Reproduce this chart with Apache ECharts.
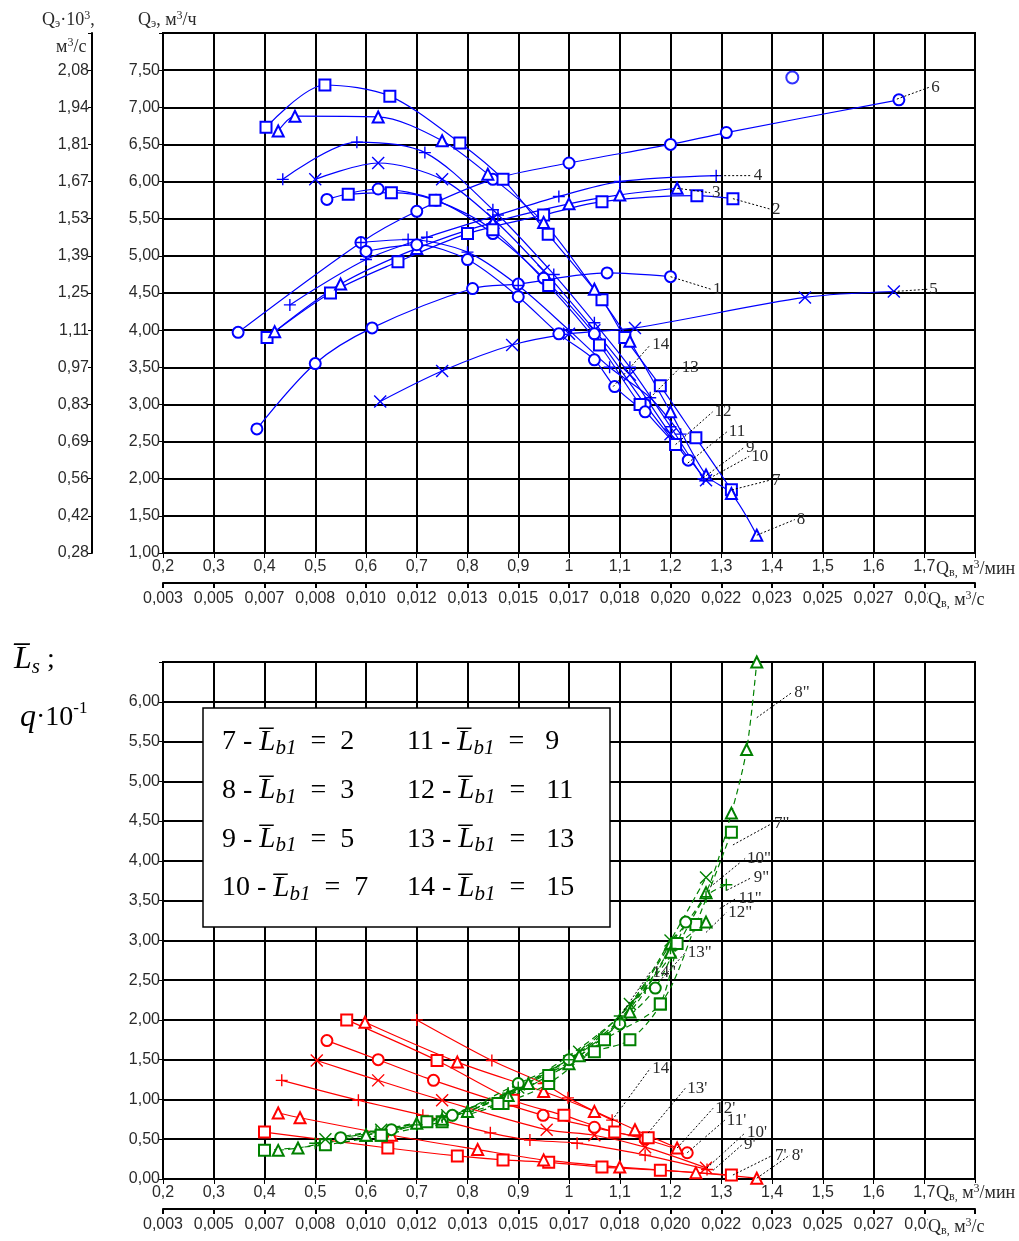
<!DOCTYPE html>
<html>
<head>
<meta charset="utf-8">
<script src="https://cdn.jsdelivr.net/npm/echarts@6/dist/echarts.min.js"></script>
<style>html,body{margin:0;padding:0;background:#fff}#main{width:1019px;height:1241px}</style>
</head>
<body>
<div id="main"></div>
<script>
// ---- axis tick labels ----
var xLabels = ['0,2','0,3','0,4','0,5','0,6','0,7','0,8','0,9','1','1,1','1,2','1,3','1,4','1,5','1,6','1,7',''];
var xSecLabels = ['0,003','0,005','0,007','0,008','0,010','0,012','0,013','0,015','0,017','0,018','0,020','0,022','0,023','0,025','0,027','0,028',''];
var ySecLabels = ['0,28','0,42','0,56','0,69','0,83','0,97','1,11','1,25','1,39','1,53','1,67','1,81','1,94','2,08',''];

// ---- upper chart: Q_э vs Q_в, curves 1..6 (rising) ----
var c1 = [[0.385,2.67],[0.5,3.55],[0.612,4.03],[0.81,4.56],[0.9,4.62],[1.075,4.77],[1.2,4.72]];
var c2 = [[0.405,3.9],[0.53,4.5],[0.663,4.92],[0.8,5.3],[0.95,5.55],[1.065,5.73],[1.252,5.81],[1.323,5.77]];
var c3 = [[0.42,3.98],[0.55,4.62],[0.7,5.1],[0.85,5.45],[1.0,5.7],[1.1,5.82],[1.213,5.91]];
var c4 = [[0.45,4.34],[0.6,4.95],[0.72,5.25],[0.86,5.55],[0.98,5.8],[1.1,6.0],[1.29,6.08]];
var c5 = [[0.628,3.04],[0.75,3.45],[0.888,3.8],[1.0,3.95],[1.13,4.03],[1.465,4.44],[1.64,4.52]];
var c6 = [[0.348,3.97],[0.59,5.18],[0.7,5.6],[0.85,6.03],[1.0,6.25],[1.2,6.5],[1.31,6.66],[1.65,7.1]];
var c6Extra = [[1.44,7.4]];
// curves 7..14 (falling)
var c7 = [[0.403,6.73],[0.519,7.3],[0.647,7.15],[0.785,6.52],[0.87,6.03],[0.959,5.29],[1.065,4.41],[1.11,3.9],[1.18,3.25],[1.25,2.55],[1.32,1.85]];
var c8 = [[0.427,6.68],[0.46,6.88],[0.624,6.87],[0.75,6.55],[0.84,6.1],[0.95,5.45],[1.05,4.55],[1.12,3.85],[1.2,2.9],[1.27,2.05],[1.32,1.8],[1.37,1.24]];
var c9 = [[0.436,6.03],[0.582,6.53],[0.716,6.39],[0.85,5.62],[0.97,4.75],[1.05,4.1],[1.12,3.5],[1.2,2.7],[1.265,2.0]];
var c10 = [[0.5,6.03],[0.624,6.25],[0.75,6.03],[0.85,5.5],[0.95,4.8],[1.05,4.0],[1.12,3.4],[1.2,2.6],[1.27,1.98]];
var c11 = [[0.523,5.76],[0.624,5.9],[0.738,5.75],[0.85,5.3],[0.95,4.7],[1.05,3.95],[1.15,3.0],[1.235,2.25]];
var c12 = [[0.565,5.83],[0.65,5.85],[0.736,5.75],[0.85,5.35],[0.96,4.6],[1.06,3.8],[1.14,3.0],[1.21,2.46]];
var c13 = [[0.59,5.18],[0.683,5.22],[0.8,5.05],[0.9,4.6],[1.0,4.0],[1.08,3.5],[1.16,3.09],[1.22,2.6]];
var c14 = [[0.6,5.06],[0.7,5.15],[0.8,4.95],[0.9,4.45],[0.98,3.95],[1.05,3.6],[1.09,3.24],[1.15,2.9]];

// ---- lower chart: L_s (red, ') and q (green, '') ----
var r7 = [[0.4,0.59],[0.643,0.39],[0.78,0.29],[0.87,0.24],[0.96,0.21],[1.065,0.15],[1.18,0.11],[1.32,0.05]];
var r8 = [[0.427,0.83],[0.47,0.77],[0.65,0.55],[0.82,0.37],[0.95,0.24],[1.1,0.15],[1.25,0.08],[1.37,0.01]];
var r9 = [[0.434,1.24],[0.585,0.99],[0.712,0.8],[0.845,0.58],[0.923,0.49],[1.016,0.45],[1.15,0.3],[1.272,0.12]];
var r10 = [[0.503,1.49],[0.624,1.24],[0.75,0.99],[0.956,0.62],[1.05,0.55],[1.15,0.4],[1.27,0.14]];
var r11 = [[0.523,1.74],[0.624,1.5],[0.733,1.24],[0.949,0.8],[1.05,0.65],[1.15,0.5],[1.233,0.33]];
var r12 = [[0.598,1.97],[0.78,1.47],[0.95,1.1],[1.05,0.85],[1.13,0.62],[1.213,0.39]];
var r13 = [[0.562,2.0],[0.74,1.49],[0.89,0.99],[0.99,0.8],[1.09,0.59],[1.156,0.52]];
var r14 = [[0.7,2.0],[0.848,1.49],[0.95,1.2],[0.998,1.02],[1.085,0.74]];

var g7 = [[0.4,0.36],[0.52,0.43],[0.63,0.55],[0.75,0.72],[0.87,0.95],[0.96,1.2],[1.07,1.75],[1.18,2.2],[1.25,3.2],[1.32,4.36]];
var g8 = [[0.427,0.36],[0.466,0.39],[0.6,0.55],[0.75,0.75],[0.88,1.05],[1.0,1.45],[1.1,2.0],[1.2,2.95],[1.27,3.6],[1.32,4.6],[1.35,5.4],[1.37,6.5]];
var g9 = [[0.5,0.45],[0.62,0.6],[0.75,0.78],[0.88,1.08],[1.0,1.55],[1.1,2.05],[1.2,2.8],[1.27,3.55],[1.31,3.7]];
var g10 = [[0.52,0.5],[0.63,0.62],[0.76,0.8],[0.9,1.15],[1.02,1.6],[1.12,2.2],[1.2,3.0],[1.27,3.79]];
var g11 = [[0.55,0.52],[0.65,0.62],[0.77,0.8],[0.9,1.2],[1.0,1.5],[1.1,1.95],[1.17,2.4],[1.23,3.23]];
var g12 = [[0.6,0.55],[0.7,0.7],[0.8,0.85],[0.92,1.2],[1.02,1.55],[1.12,2.1],[1.2,2.85],[1.27,3.23]];
var g13 = [[0.63,0.55],[0.72,0.72],[0.86,0.95],[0.96,1.3],[1.05,1.6],[1.12,1.75],[1.18,2.2],[1.213,2.96]];
var g14 = [[0.7,0.68],[0.8,0.85],[0.9,1.15],[1.0,1.5],[1.1,2.0],[1.15,2.4],[1.2,2.9]];

// leader lines: [label, from, to]
var topLeaders = [
  ['6',[1.646,7.11],[1.71,7.27]], ['4',[1.29,6.08],[1.36,6.08]], ['3',[1.213,5.91],[1.278,5.85]],
  ['2',[1.323,5.77],[1.396,5.63]], ['1',[1.2,4.72],[1.28,4.55]], ['5',[1.64,4.52],[1.706,4.55]],
  ['14',[1.087,3.24],[1.16,3.8]], ['13',[1.16,3.09],[1.218,3.49]], ['12',[1.21,2.46],[1.283,2.9]],
  ['11',[1.234,2.21],[1.311,2.63]], ['9',[1.264,2.01],[1.345,2.42]], ['10',[1.27,1.98],[1.355,2.3]],
  ['7',[1.321,1.85],[1.396,1.98]], ['8',[1.37,1.24],[1.445,1.45]]
];
var botLeaders = [
  ['8"',[1.37,5.8],[1.44,6.12]], ['7"',[1.323,4.2],[1.4,4.47]], ['10"',[1.278,3.67],[1.347,4.03]],
  ['9"',[1.311,3.63],[1.36,3.79]], ['11"',[1.297,3.4],[1.33,3.53]], ['12"',[1.27,3.1],[1.31,3.35]],
  ['13"',[1.183,2.52],[1.23,2.85]], ['14"',[1.095,2.0],[1.16,2.6]],
  ["14'",[1.085,0.74],[1.16,1.39]], ["13'",[1.156,0.58],[1.229,1.14]], ["12'",[1.213,0.39],[1.284,0.89]],
  ["11'",[1.233,0.33],[1.307,0.74]], ["10'",[1.272,0.14],[1.347,0.58]], ["9'",[1.284,0.11],[1.341,0.43]],
  ["7'",[1.323,0.05],[1.402,0.3]], ["8'",[1.37,0.01],[1.435,0.3]]
];

var legendRows = [['7','2','11','9'],['8','3','12','11'],['9','5','13','13'],['10','7','14','15']];

var BLUE = '#0000ff', RED = '#ff0000', GREEN = '#008000';
var SYM = {
  o: 'emptyCircle', s: 'emptyRect', t: 'emptyTriangle',
  p: 'path://M0,5L10,5M5,0L5,10', x: 'path://M0,0L10,10M10,0L0,10'
};
var tickFont = {fontFamily: 'Liberation Sans', fontSize: 16, color: '#2a2a2a'};

function curve(data, sym, color, grid, dashed) {
  var isPath = sym === 'p' || sym === 'x';
  return {
    type: 'line', xAxisIndex: grid * 2, yAxisIndex: grid * 2, data: data,
    smooth: 0.3, symbol: SYM[sym], symbolSize: isPath ? 12 : 11,
    lineStyle: {color: color, width: 1.2, type: dashed ? [6, 4] : 'solid'},
    itemStyle: isPath ? {color: 'rgba(0,0,0,0)', borderColor: color, borderWidth: 1.4}
                      : {color: color, borderColor: color, borderWidth: 1.3},
    z: 3
  };
}
function leader(item, grid) {
  return {
    type: 'line', xAxisIndex: grid * 2, yAxisIndex: grid * 2,
    data: [item[1], item[2]], symbol: 'none', silent: true,
    lineStyle: {color: '#000', width: 1, type: [2, 2]},
    endLabel: {show: true, formatter: item[0], distance: 2, color: '#2a2a2a',
      fontFamily: 'Liberation Serif', fontSize: 17},
    z: 4
  };
}
function xMain(grid) {
  return {type: 'value', gridIndex: grid, min: 0.2, max: 1.8, interval: 0.1,
    axisLine: {show: true, onZero: false, lineStyle: {color: '#000', width: 2}},
    axisTick: {show: true, length: 5, lineStyle: {color: '#000'}},
    axisLabel: Object.assign({margin: 6, formatter: function (v) { return xLabels[Math.round((v - 0.2) / 0.1)]; }}, tickFont),
    splitLine: {show: true, lineStyle: {color: '#000', width: 2}}};
}
function xSec(grid) {
  return {type: 'value', gridIndex: grid, position: 'bottom', offset: 30, min: 0.2, max: 1.8, interval: 0.1,
    axisLine: {show: true, onZero: false, lineStyle: {color: '#000', width: 2}},
    axisTick: {show: true, length: 5, lineStyle: {color: '#000', width: 2}},
    axisLabel: Object.assign({margin: 8, formatter: function (v) { return xSecLabels[Math.round((v - 0.2) / 0.1)]; }}, tickFont),
    splitLine: {show: false}};
}
function yMain(grid, max) {
  return {type: 'value', gridIndex: grid, min: grid === 0 ? 1 : 0, max: max, interval: 0.5,
    axisLine: {show: true, onZero: false, lineStyle: {color: '#000', width: 2}},
    axisTick: {show: true, length: 4, lineStyle: {color: '#000'}},
    axisLabel: Object.assign({margin: 3, formatter: function (v) {
      return Math.abs(v - max) < 1e-6 ? '' : v.toFixed(2).replace('.', ',');
    }}, tickFont),
    splitLine: {show: true, lineStyle: {color: '#000', width: 2}}};
}

var rich = {
  n: {fontFamily: 'Liberation Serif', fontSize: 28, fill: '#000', lineHeight: 34, verticalAlign: 'middle'},
  l: {fontFamily: 'Liberation Serif', fontStyle: 'italic', fontSize: 29, fill: '#000', lineHeight: 34, verticalAlign: 'middle'},
  s: {fontFamily: 'Liberation Serif', fontStyle: 'italic', fontSize: 21, fill: '#000', lineHeight: 14, verticalAlign: 'bottom'},
  q: {fontFamily: 'Liberation Serif', fontSize: 18, fill: '#2a2a2a', lineHeight: 20, verticalAlign: 'middle'},
  qs: {fontFamily: 'Liberation Serif', fontSize: 12, fill: '#2a2a2a', lineHeight: 10, verticalAlign: 'bottom'},
  qu: {fontFamily: 'Liberation Serif', fontSize: 12, fill: '#2a2a2a', lineHeight: 12, verticalAlign: 'top'},
  Y: {fontFamily: 'Liberation Serif', fontStyle: 'italic', fontSize: 32, fill: '#000', lineHeight: 36, verticalAlign: 'middle'},
  Yn: {fontFamily: 'Liberation Serif', fontSize: 28, fill: '#000', lineHeight: 36, verticalAlign: 'middle'},
  Ys: {fontFamily: 'Liberation Serif', fontStyle: 'italic', fontSize: 21, fill: '#000', lineHeight: 12, verticalAlign: 'bottom'},
  Yu: {fontFamily: 'Liberation Serif', fontSize: 17, fill: '#000', lineHeight: 14, verticalAlign: 'top'}
};

var graphics = [];
function txt(x, y, text, bg) {
  graphics.push({type: 'text', x: x, y: y, z: 50,
    style: {text: text, rich: rich, verticalAlign: 'middle', backgroundColor: bg || null}});
}
// axis titles, upper chart
txt(42, 20, '{q|Q}{qs|э}{q|·10}{qu|3}{q|,}');
txt(56, 47, '{q|м}{qu|3}{q|/с}');
txt(138, 20, '{q|Q}{qs|э}{q|, м}{qu|3}{q|/ч}');
txt(936, 569, '{q|Q}{qs|в,}{q| м}{qu|3}{q|/мин}', '#fff');
txt(928, 600, '{q|Q}{qs|в,}{q| м}{qu|3}{q|/с}', '#fff');
// axis titles, lower chart
txt(936, 1193, '{q|Q}{qs|в,}{q| м}{qu|3}{q|/мин}', '#fff');
txt(928, 1227, '{q|Q}{qs|в,}{q| м}{qu|3}{q|/с}', '#fff');
txt(14, 660, '{Y|L\u0305}{Ys|s}{Yn| ;}');
txt(20, 718, '{Y|q}{Yn|·10}{Yu|-1}');
// legend box
graphics.push({type: 'rect', shape: {x: 203, y: 708, width: 407, height: 219}, z: 40,
  style: {fill: '#fff', stroke: '#000', lineWidth: 1.5}});
legendRows.forEach(function (row, i) {
  var y = 742 + i * 48.7;
  txt(222, y, '{n|' + row[0] + ' - }{l|L\u0305}{s|b1}{n|  =  ' + row[1] + '}');
  txt(407, y, '{n|' + row[2] + ' - }{l|L\u0305}{s|b1}{n|  =   ' + row[3] + '}');
});

var series = [
  curve(c1, 'o', BLUE, 0), curve(c2, 's', BLUE, 0), curve(c3, 't', BLUE, 0),
  curve(c4, 'p', BLUE, 0), curve(c5, 'x', BLUE, 0), curve(c6, 'o', BLUE, 0),
  curve(c7, 's', BLUE, 0), curve(c8, 't', BLUE, 0), curve(c9, 'p', BLUE, 0),
  curve(c10, 'x', BLUE, 0), curve(c11, 'o', BLUE, 0), curve(c12, 's', BLUE, 0),
  curve(c13, 'p', BLUE, 0), curve(c14, 'o', BLUE, 0),
  {type: 'scatter', xAxisIndex: 0, yAxisIndex: 0, data: c6Extra, symbol: 'emptyCircle', symbolSize: 12,
    itemStyle: {color: BLUE, borderColor: BLUE, borderWidth: 1.3}},
  curve(r7, 's', RED, 1), curve(r8, 't', RED, 1), curve(r9, 'p', RED, 1), curve(r10, 'x', RED, 1),
  curve(r11, 'o', RED, 1), curve(r12, 't', RED, 1), curve(r13, 's', RED, 1), curve(r14, 'p', RED, 1),
  curve(g7, 's', GREEN, 1, true), curve(g8, 't', GREEN, 1, true), curve(g9, 'p', GREEN, 1, true),
  curve(g10, 'x', GREEN, 1, true), curve(g11, 'o', GREEN, 1, true), curve(g12, 't', GREEN, 1, true),
  curve(g13, 's', GREEN, 1, true), curve(g14, 'p', GREEN, 1, true)
];
topLeaders.forEach(function (l) { series.push(leader(l, 0)); });
botLeaders.forEach(function (l) { series.push(leader(l, 1)); });

var myChart = echarts.init(document.getElementById('main'));
myChart.setOption({
  animation: false,
  backgroundColor: '#fff',
  grid: [
    {left: 163, top: 33, width: 812, height: 520, show: true, borderColor: '#000', borderWidth: 2},
    {left: 163, top: 662, width: 812, height: 517, show: true, borderColor: '#000', borderWidth: 2}
  ],
  xAxis: [xMain(0), xSec(0), xMain(1), xSec(1)],
  yAxis: [
    yMain(0, 8),
    {type: 'value', gridIndex: 0, position: 'left', offset: 71, min: 1, max: 8, interval: 0.5,
      axisLine: {show: true, lineStyle: {color: '#000', width: 2}},
      axisTick: {show: true, length: 4, lineStyle: {color: '#000'}},
      axisLabel: Object.assign({margin: 3, formatter: function (v) { return ySecLabels[Math.round((v - 1) / 0.5)]; }}, tickFont),
      splitLine: {show: false}},
    yMain(1, 6.5)
  ],
  graphic: graphics,
  series: series
});
</script>
</body>
</html>
